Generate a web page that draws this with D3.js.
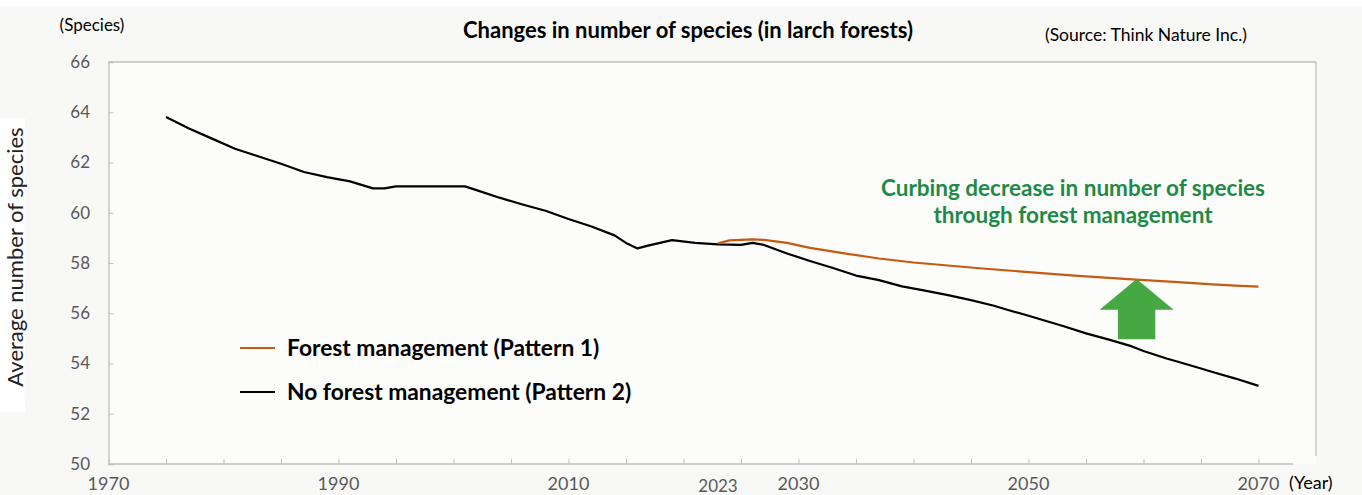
<!DOCTYPE html>
<html>
<head>
<meta charset="utf-8">
<script src="https://cdn.jsdelivr.net/npm/d3@7"></script>
<style>
  html, body { margin: 0; padding: 0; background: #f8f8f6; }
  svg { display: block; }
  text { font-family: Lato, "Open Sans", sans-serif; }
</style>
</head>
<body>
<svg id="chart" width="1362" height="495"></svg>
<script>
// ---------- data ----------
const blackYears = [1975, 1977, 1979, 1981, 1983, 1985, 1987, 1989, 1991, 1993, 1994, 1995, 2001, 2002, 2004, 2006, 2008, 2010, 2012, 2014, 2015, 2016, 2017, 2019, 2021, 2023, 2025, 2026, 2027, 2029, 2031, 2033, 2035, 2037, 2039, 2041, 2043, 2045, 2047, 2048, 2050, 2053, 2055, 2057, 2059, 2060, 2062, 2063, 2065, 2066, 2068, 2070];
const blackValues = [63.81, 63.35, 62.95, 62.55, 62.25, 61.95, 61.62, 61.42, 61.25, 60.97, 60.97, 61.05, 61.05, 60.9, 60.6, 60.33, 60.08, 59.75, 59.45, 59.1, 58.8, 58.58, 58.7, 58.91, 58.8, 58.74, 58.72, 58.8, 58.72, 58.38, 58.08, 57.8, 57.5, 57.32, 57.07, 56.9, 56.72, 56.52, 56.3, 56.16, 55.9, 55.49, 55.2, 54.95, 54.68, 54.5, 54.2, 54.07, 53.8, 53.66, 53.4, 53.11];

const orangeYears = [2023, 2024, 2026, 2027, 2029, 2031, 2034, 2037, 2040, 2043, 2046, 2050, 2054, 2059, 2063, 2066, 2068, 2070];
const orangeValues = [58.78, 58.9, 58.94, 58.92, 58.8, 58.6, 58.38, 58.18, 58.02, 57.9, 57.78, 57.64, 57.5, 57.35, 57.24, 57.15, 57.1, 57.06];

const seriesNames = ["Forest management (Pattern 1)", "No forest management (Pattern 2)"];
const seriesColors = ["#c55a11", "#000000"];

const xTickValues = [1970, 1975, 1980, 1985, 1990, 1995, 2000, 2005, 2010, 2015, 2020, 2025, 2030, 2035, 2040, 2045, 2050, 2055, 2060, 2065, 2070];
const xLabelValues = [1970, 1990, 2010, 2030, 2050, 2070];
const xExtraLabel = 2023;
const yTickValues = [50, 52, 54, 56, 58, 60, 62, 64, 66];

const titleText = "Changes in number of species (in larch forests)";
const sourceText = "(Source: Think Nature Inc.)";
const yUnitText = "(Species)";
const xUnitText = "(Year)";
const yTitleText = "Average number of species";
const noteLines = ["Curbing decrease in number of species", "through forest management"];
// arrow: centre year, tip value, base value
const arrowYear = 2059.4, arrowTip = 57.36, arrowBase = 54.97;

// ---------- layout ----------
const svg = d3.select("#chart");
const W = 1362, H = 495;
const mLeft = 108.5, mRight = 1316, mTop = 62, mBottom = 464;

const x = d3.scaleLinear().domain([1970, 2075]).range([mLeft, mRight]);
const y = d3.scaleLinear().domain([50, 66]).range([mBottom, mTop]);

// background pieces
svg.append("rect").attr("width", W).attr("height", H).attr("fill", "#f8f8f6");
svg.append("rect").attr("x", 0).attr("y", 0).attr("width", W).attr("height", 7).attr("fill", "#ffffff");
svg.append("rect").attr("x", 0).attr("y", 118).attr("width", 25).attr("height", 294).attr("fill", "#ffffff");
svg.append("rect").attr("x", mLeft).attr("y", mTop).attr("width", mRight - mLeft).attr("height", mBottom - mTop).attr("fill", "#fcfcfb");

const axisColor = "#bfbfbf";
// frame top & right
svg.append("line").attr("x1", mLeft).attr("x2", mRight).attr("y1", mTop).attr("y2", mTop).attr("stroke", axisColor).attr("stroke-width", 1.3);
svg.append("line").attr("x1", mRight).attr("x2", mRight).attr("y1", mTop).attr("y2", mBottom - 8).attr("stroke", axisColor).attr("stroke-width", 1.3);

// y axis
const yAxis = d3.axisRight(y).tickValues(yTickValues).tickSize(5).tickFormat("");
const gy = svg.append("g").attr("transform", `translate(${mLeft},0)`).call(yAxis);
gy.select(".domain").attr("stroke", axisColor).attr("stroke-width", 1.3);
gy.selectAll(".tick line").attr("stroke", axisColor);
svg.append("g").selectAll("text").data(yTickValues).join("text")
  .attr("x", 90).attr("y", d => y(d)).attr("dy", "0.35em")
  .attr("text-anchor", "end").attr("font-size", 17).attr("fill", "#595959")
  .text(d => d);

// x axis
const xAxis = d3.axisTop(x).tickValues(xTickValues).tickSize(5).tickFormat("").tickSizeOuter(0);
const gx = svg.append("g").attr("transform", `translate(0,${mBottom})`).call(xAxis);
gx.select(".domain").attr("d", `M${x(1970)},0H${x(2073)}`).attr("stroke", axisColor).attr("stroke-width", 1.3);
gx.selectAll(".tick line").attr("stroke", axisColor);
svg.append("g").selectAll("text").data(xLabelValues).join("text")
  .attr("x", d => x(d)).attr("y", 484).attr("dy", "0.35em")
  .attr("text-anchor", "middle").attr("font-size", 18).attr("fill", "#595959")
  .text(d => d);
svg.append("text").attr("x", x(xExtraLabel)).attr("y", 486).attr("dy", "0.35em")
  .attr("text-anchor", "middle").attr("font-size", 17).attr("fill", "#595959").text(xExtraLabel);
svg.append("text").attr("x", 1289).attr("y", 483).attr("dy", "0.35em")
  .attr("font-size", 18).attr("fill", "#000").text(xUnitText);

// titles
svg.append("text").attr("x", 688).attr("y", 30).attr("dy", "0.35em").attr("text-anchor", "middle")
  .attr("font-size", 22).attr("font-weight", "bold").attr("fill", "#000").text(titleText);
svg.append("text").attr("x", 1146).attr("y", 35).attr("dy", "0.35em").attr("text-anchor", "middle")
  .attr("font-size", 17.5).attr("fill", "#000").text(sourceText);
svg.append("text").attr("x", 92).attr("y", 25).attr("dy", "0.35em").attr("text-anchor", "middle")
  .attr("font-size", 17).attr("fill", "#000").text(yUnitText);
svg.append("text").attr("transform", `translate(15,257) rotate(-90)`).attr("dy", "0.35em").attr("text-anchor", "middle")
  .attr("font-size", 22).attr("fill", "#222").text(yTitleText);

// lines
const line = d3.line().x(d => x(d[0])).y(d => y(d[1]));
const blackData = blackYears.map((yr, i) => [yr, blackValues[i]]);
const orangeData = orangeYears.map((yr, i) => [yr, orangeValues[i]]);
svg.append("path").datum(blackData).attr("d", line).attr("fill", "none")
  .attr("stroke", seriesColors[1]).attr("stroke-width", 2.2).attr("stroke-linejoin", "round");
svg.append("path").datum(orangeData).attr("d", line).attr("fill", "none")
  .attr("stroke", seriesColors[0]).attr("stroke-width", 2.2).attr("stroke-linejoin", "round");

// arrow
const ax = x(arrowYear), tipY = y(arrowTip), baseY = y(arrowBase);
const headHalf = 37, shaftHalf = 18.7, headH = 30.6;
svg.append("path")
  .attr("d", `M${ax},${tipY} L${ax + headHalf},${tipY + headH} L${ax + shaftHalf},${tipY + headH} L${ax + shaftHalf},${baseY} L${ax - shaftHalf},${baseY} L${ax - shaftHalf},${tipY + headH} L${ax - headHalf},${tipY + headH} Z`)
  .attr("fill", "#46a843");

// note
svg.append("g").selectAll("text").data(noteLines).join("text")
  .attr("x", 1073).attr("y", (d, i) => 188 + i * 27).attr("dy", "0.35em")
  .attr("text-anchor", "middle").attr("font-size", 22.5).attr("font-weight", "bold").attr("fill", "#1e8a45")
  .text(d => d);

// legend
const legY = [348, 392];
const lg = svg.append("g");
lg.selectAll("line").data(seriesNames).join("line")
  .attr("x1", 240).attr("x2", 275).attr("y1", (d, i) => legY[i]).attr("y2", (d, i) => legY[i])
  .attr("stroke", (d, i) => seriesColors[i]).attr("stroke-width", 2.2);
lg.selectAll("text").data(seriesNames).join("text")
  .attr("x", 287).attr("y", (d, i) => legY[i]).attr("dy", "0.35em")
  .attr("font-size", 22.8).attr("font-weight", "bold").attr("fill", "#000")
  .text(d => d);
</script>
</body>
</html>
